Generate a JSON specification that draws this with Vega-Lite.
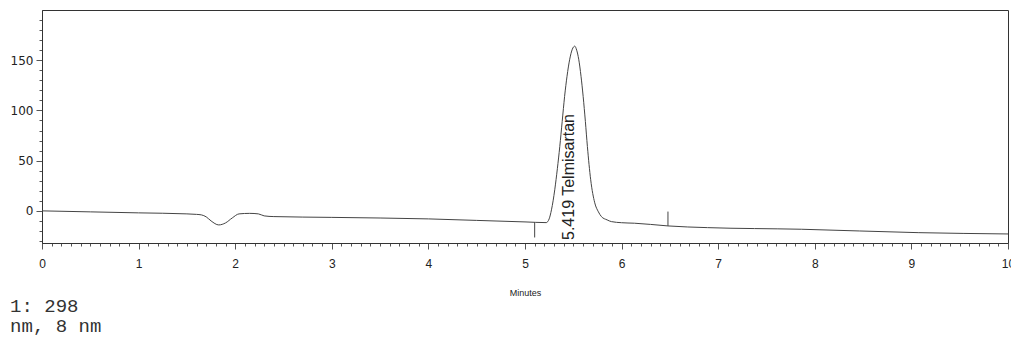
{
  "$schema": "https://vega.github.io/schema/vega-lite/v6.json",
  "autosize": {"type": "none"},
  "width": 966,
  "height": 233,
  "padding": {"left": 42, "top": 10, "right": 3, "bottom": 94},
  "background": "white",
  "config": {
    "view": {"stroke": "#333", "strokeWidth": 1},
    "font": "Liberation Sans"
  },
  "title": {
    "text": ["1: 298", "nm, 8 nm"],
    "orient": "bottom",
    "anchor": "start",
    "frame": "bounds",
    "font": "Liberation Mono",
    "fontSize": 19,
    "fontWeight": "normal",
    "color": "#333",
    "lineHeight": 20,
    "offset": 0
  },
  "datasets": {
    "trace": [
      {"t": 0, "v": 0}, {"t": 0.5, "v": -1}, {"t": 1.0, "v": -2}, {"t": 1.5, "v": -3},
      {"t": 1.6, "v": -3.5}, {"t": 1.65, "v": -4}, {"t": 1.7, "v": -6}, {"t": 1.75, "v": -10},
      {"t": 1.83, "v": -14}, {"t": 1.9, "v": -12}, {"t": 1.97, "v": -7}, {"t": 2.04, "v": -3},
      {"t": 2.15, "v": -2.5}, {"t": 2.24, "v": -3}, {"t": 2.3, "v": -5}, {"t": 2.4, "v": -5.7},
      {"t": 3.0, "v": -6.5}, {"t": 4.0, "v": -8}, {"t": 4.5, "v": -9.5}, {"t": 5.0, "v": -11},
      {"t": 5.22, "v": -11.7}, {"t": 5.25, "v": -8}, {"t": 5.274, "v": 1}, {"t": 5.308, "v": 21},
      {"t": 5.335, "v": 42}, {"t": 5.36, "v": 64}, {"t": 5.385, "v": 89}, {"t": 5.41, "v": 114},
      {"t": 5.435, "v": 134}, {"t": 5.463, "v": 151}, {"t": 5.49, "v": 161}, {"t": 5.515, "v": 164},
      {"t": 5.535, "v": 160}, {"t": 5.556, "v": 151}, {"t": 5.58, "v": 134}, {"t": 5.602, "v": 114},
      {"t": 5.625, "v": 89}, {"t": 5.646, "v": 64}, {"t": 5.68, "v": 31}, {"t": 5.722, "v": 8},
      {"t": 5.76, "v": -1}, {"t": 5.791, "v": -5.7}, {"t": 5.85, "v": -9}, {"t": 5.894, "v": -10.7},
      {"t": 6.0, "v": -11.8}, {"t": 6.132, "v": -12.3}, {"t": 6.3, "v": -13.5}, {"t": 6.48, "v": -15},
      {"t": 6.89, "v": -16.7}, {"t": 7.86, "v": -18.3}, {"t": 9.07, "v": -21.7}, {"t": 10, "v": -23}
    ],
    "marks": [
      {"t": 5.1, "a": -11.3, "b": -26.5},
      {"t": 6.48, "a": -15, "b": -0.7}
    ],
    "label": [
      {"t": 5.46, "v": -29, "txt": "5.419  Telmisartan"}
    ]
  },
  "layer": [
    {
      "data": {"name": "trace"},
      "mark": {"type": "line", "color": "#444", "strokeWidth": 1, "interpolate": "monotone", "clip": true},
      "encoding": {
        "x": {
          "field": "t", "type": "quantitative",
          "scale": {"domain": [0, 10], "nice": false, "zero": false},
          "axis": {
            "title": "Minutes",
            "titleFontSize": 9,
            "titleFontWeight": "normal",
            "titleColor": "#222",
            "titlePadding": 19,
            "tickCount": 1000,
            "values": [0,0.1,0.2,0.3,0.4,0.5,0.6,0.7,0.8,0.9,1,1.1,1.2,1.3,1.4,1.5,1.6,1.7,1.8,1.9,2,2.1,2.2,2.3,2.4,2.5,2.6,2.7,2.8,2.9,3,3.1,3.2,3.3,3.4,3.5,3.6,3.7,3.8,3.9,4,4.1,4.2,4.3,4.4,4.5,4.6,4.7,4.8,4.9,5,5.1,5.2,5.3,5.4,5.5,5.6,5.7,5.8,5.9,6,6.1,6.2,6.3,6.4,6.5,6.6,6.7,6.8,6.9,7,7.1,7.2,7.3,7.4,7.5,7.6,7.7,7.8,7.9,8,8.1,8.2,8.3,8.4,8.5,8.6,8.7,8.8,8.9,9,9.1,9.2,9.3,9.4,9.5,9.6,9.7,9.8,9.9,10],
            "labelExpr": "abs(datum.value - round(datum.value)) < 0.001 ? format(round(datum.value), 'd') : ''",
            "labelOverlap": false,
            "labelFlush": false,
            "labelFontSize": 12,
            "labelColor": "#222",
            "labelPadding": 9,
            "tickSize": {"condition": {"test": "abs(datum.value - round(datum.value)) < 0.001", "value": 6}, "value": 3},
            "tickColor": "#555",
            "domainColor": "#333",
            "grid": false
          }
        },
        "y": {
          "field": "v", "type": "quantitative",
          "scale": {"domain": [-32, 200], "nice": false, "zero": false},
          "axis": {
            "title": null,
            "tickCount": 1000,
            "values": [-30,-20,-10,0,10,20,30,40,50,60,70,80,90,100,110,120,130,140,150,160,170,180,190],
            "labelExpr": "datum.value % 50 == 0 && datum.value >= 0 ? format(datum.value, 'd') : ''",
            "labelOverlap": false,
            "labelFont": "DejaVu Sans",
            "labelFontSize": 12,
            "labelColor": "#222",
            "labelPadding": 3,
            "tickSize": {"condition": {"test": "datum.value % 50 == 0", "value": 6}, "value": 3},
            "tickColor": "#555",
            "domainColor": "#333",
            "grid": false
          }
        }
      }
    },
    {
      "data": {"name": "marks"},
      "mark": {"type": "rule", "color": "#444", "strokeWidth": 1},
      "encoding": {
        "x": {"field": "t", "type": "quantitative"},
        "y": {"field": "a", "type": "quantitative"},
        "y2": {"field": "b"}
      }
    },
    {
      "data": {"name": "label"},
      "mark": {"type": "text", "angle": 270, "align": "left", "baseline": "middle", "fontSize": 16, "font": "Liberation Sans", "color": "#222"},
      "encoding": {
        "x": {"field": "t", "type": "quantitative"},
        "y": {"field": "v", "type": "quantitative"},
        "text": {"field": "txt"}
      }
    }
  ]
}
